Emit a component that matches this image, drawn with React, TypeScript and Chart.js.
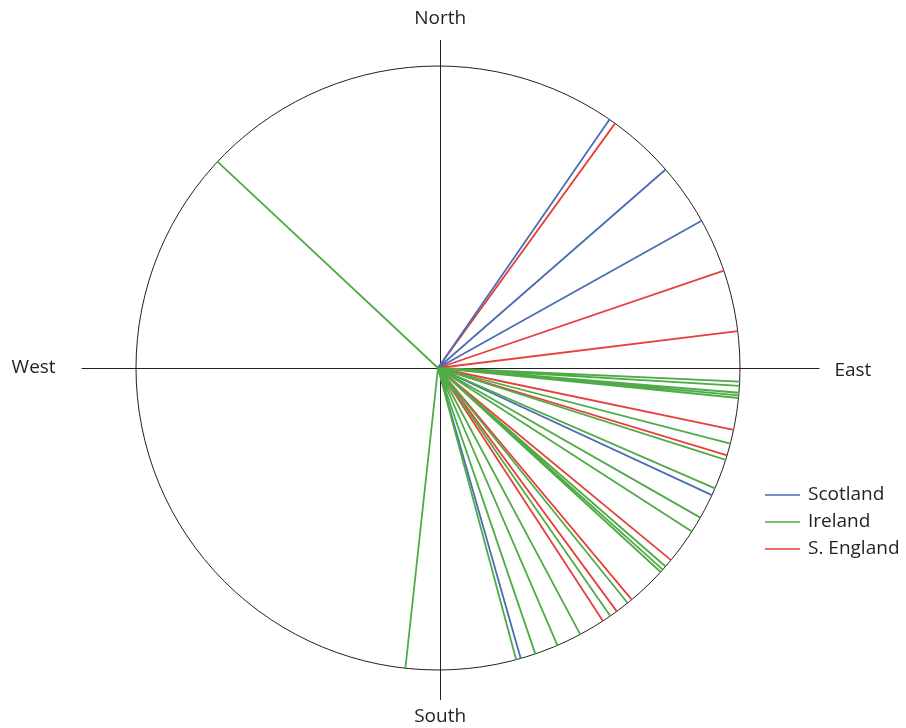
import React, { useEffect, useRef } from "react";
import { Chart, registerables } from "chart.js";

Chart.register(...registerables);

// Series names and colours
const SERIES_NAMES = ["Scotland", "Ireland", "S. England"];
const SERIES_COLORS = ["#4a6db3", "#4eab45", "#e5413a"];

// Compass bearings (degrees clockwise from North) of each ray
const SCOTLAND_BEARINGS = [34.6, 48.9, 60.8, 114.9, 164.1];
const IRELAND_BEARINGS = [
  313.1, 92.6, 93.4, 94.7, 95.2, 95.7, 104.5, 107.7, 113.5, 119.7, 122.8,
  131.1, 131.9, 132.5, 141.1, 145.2, 151.9, 156.7, 161.2, 165.0, 186.2,
];
const ENGLAND_BEARINGS = [35.9, 71.2, 83.0, 101.8, 106.8, 129.5, 140.1, 143.7, 146.9];

const COMPASS_LABELS = ["North", "East", "South", "West"];

// Layout
const W = 906;
const H = 728;
const RADIUS_PX = 302;
const PAD = { left: 38, right: 68, top: 28, bottom: 20 };
const X_HALF = (W - PAD.left - PAD.right) / 2 / RADIUS_PX;
const Y_HALF = (H - PAD.top - PAD.bottom) / 2 / RADIUS_PX;
// crosshair extents in data units (circle radius = 1)
const H_AXIS = [-1.18, 1.263];
const V_AXIS = [-1.099, 1.086];
const V_AXIS_X = 0.007;

const FONT = "19px 'Open Sans', sans-serif";
const TEXT_COLOR = "#231f20";

function rays(bearings: number[]) {
  const pts: { x: number; y: number }[] = [];
  bearings.forEach((b) => {
    const r = (b * Math.PI) / 180;
    pts.push({ x: 0, y: 0 });
    pts.push({ x: Math.sin(r), y: Math.cos(r) });
  });
  return pts;
}

const compassPlugin = {
  id: "compass",
  beforeDatasetsDraw(chart: any) {
    const ctx = chart.ctx;
    const xs = chart.scales.x;
    const ys = chart.scales.y;
    const cx = xs.getPixelForValue(0);
    const cy = ys.getPixelForValue(0);
    const r = xs.getPixelForValue(1) - cx;
    const vx = Math.round(xs.getPixelForValue(V_AXIS_X)) + 0.5;
    ctx.save();
    ctx.strokeStyle = "#231f20";
    ctx.lineWidth = 1;
    ctx.beginPath();
    ctx.arc(cx, cy, r, 0, Math.PI * 2);
    ctx.stroke();
    ctx.beginPath();
    ctx.moveTo(xs.getPixelForValue(H_AXIS[0]), cy + 0.5);
    ctx.lineTo(xs.getPixelForValue(H_AXIS[1]), cy + 0.5);
    ctx.moveTo(vx, ys.getPixelForValue(V_AXIS[1]));
    ctx.lineTo(vx, ys.getPixelForValue(V_AXIS[0]));
    ctx.stroke();
    ctx.restore();
  },
  afterDraw(chart: any) {
    const ctx = chart.ctx;
    const xs = chart.scales.x;
    const ys = chart.scales.y;
    const vx = xs.getPixelForValue(V_AXIS_X);
    const cy = ys.getPixelForValue(0);
    ctx.save();
    ctx.font = FONT;
    ctx.fillStyle = TEXT_COLOR;
    ctx.textBaseline = "middle";
    ctx.textAlign = "center";
    ctx.fillText(COMPASS_LABELS[0], vx, ys.getPixelForValue(V_AXIS[1]) - 21);
    ctx.fillText(COMPASS_LABELS[2], vx, ys.getPixelForValue(V_AXIS[0]) + 17);
    ctx.textAlign = "left";
    ctx.fillText(COMPASS_LABELS[1], xs.getPixelForValue(H_AXIS[1]) + 15, cy + 3);
    ctx.textAlign = "right";
    ctx.fillText(COMPASS_LABELS[3], xs.getPixelForValue(H_AXIS[0]) - 26, cy);

    // legend
    const lx = 765;
    const ly = 495;
    SERIES_NAMES.forEach((name, i) => {
      const y = ly + i * 27;
      ctx.strokeStyle = SERIES_COLORS[i];
      ctx.lineWidth = 1.5;
      ctx.beginPath();
      ctx.moveTo(lx, y);
      ctx.lineTo(lx + 35, y);
      ctx.stroke();
      ctx.fillStyle = TEXT_COLOR;
      ctx.textAlign = "left";
      ctx.fillText(name, lx + 43, y);
    });
    ctx.restore();
  },
};

export default function App() {
  const ref = useRef<HTMLCanvasElement | null>(null);
  useEffect(() => {
    if (!ref.current) return;
    const groups = [SCOTLAND_BEARINGS, IRELAND_BEARINGS, ENGLAND_BEARINGS];
    const order = [1, 0, 2];
    const chart = new Chart(ref.current, {
      type: "scatter",
      data: {
        datasets: order.map((i) => ({
          label: SERIES_NAMES[i],
          data: rays(groups[i]),
          showLine: true,
          borderColor: SERIES_COLORS[i],
          borderWidth: 1.8,
          borderJoinStyle: "bevel" as const,
          pointRadius: 0,
          pointHoverRadius: 0,
          tension: 0,
        })),
      },
      options: {
        animation: false,
        responsive: false,
        events: [],
        layout: { padding: PAD },
        plugins: { legend: { display: false }, tooltip: { enabled: false } },
        scales: {
          x: { type: "linear", min: -X_HALF, max: X_HALF, display: false },
          y: { type: "linear", min: -Y_HALF, max: Y_HALF, display: false },
        },
      },
      plugins: [compassPlugin],
    });
    return () => chart.destroy();
  }, []);
  return (
    <div style={{ position: "absolute", left: 0, top: 0, width: W, height: H, background: "#fff" }}>
      <canvas ref={ref} width={W} height={H} style={{ width: W, height: H }} />
    </div>
  );
}
